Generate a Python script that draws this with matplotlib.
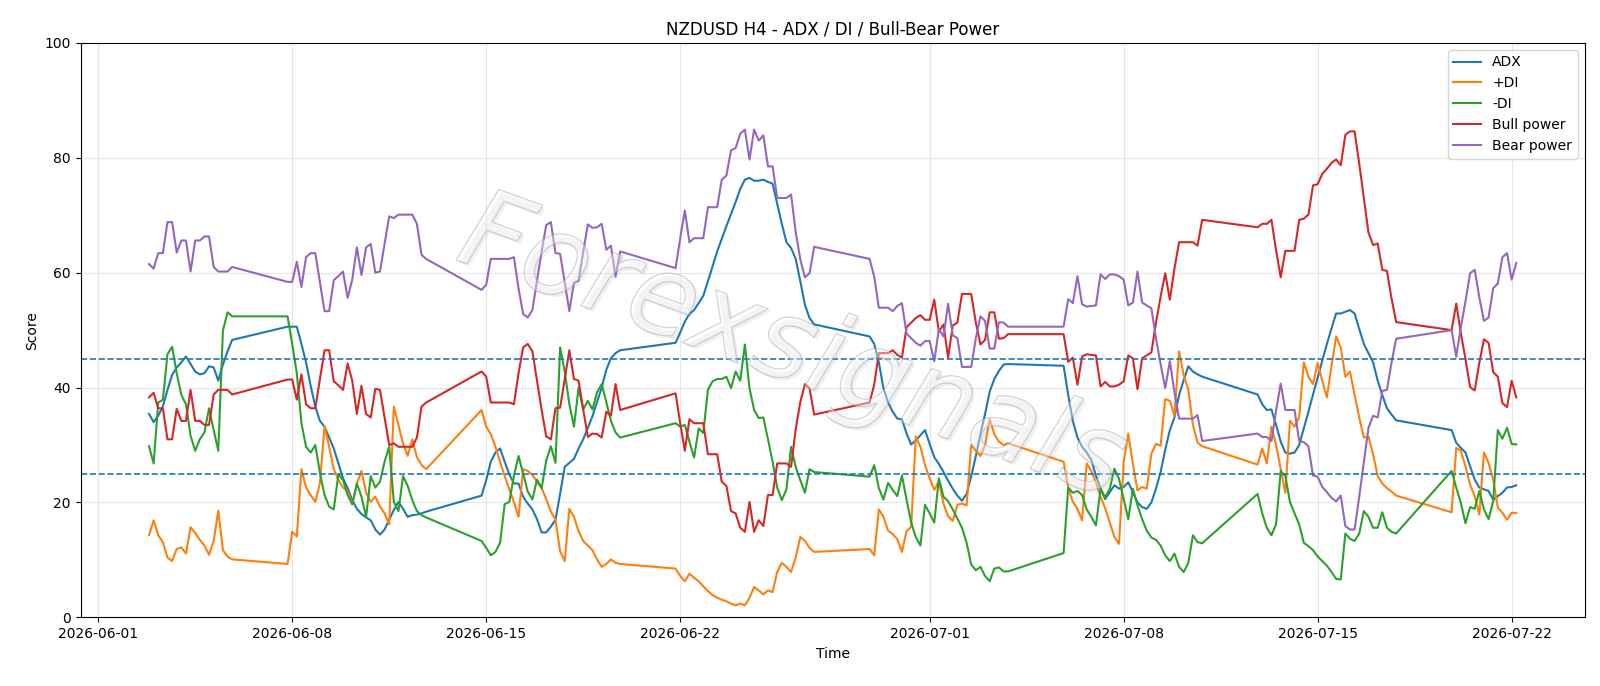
import matplotlib
matplotlib.use("Agg")
import matplotlib.pyplot as plt
import matplotlib.patheffects as pe
import pandas as pd

# H4 bars, Tue 2026-06-02 20:00 -> Wed 2026-07-22 04:00 (no Saturday, Sunday only 20:00)
bars = pd.date_range("2026-06-02 20:00", "2026-07-22 04:00", freq="4h")
bars = bars[(bars.dayofweek < 5) | ((bars.dayofweek == 6) & (bars.hour == 20))]

# one line per trading week
adx = [
    35.4, 34.0, 35.1, 36.7, 39.6, 42.2, 43.5, 44.4, 45.4, 44.1, 42.8, 42.3, 42.5, 43.7, 43.5, 41.2, 44.0, 46.3, 48.3,
    50.6, 50.6, 50.6, 47.6, 44.4, 40.3, 36.7, 34.2, 33.2, 31.3, 29.4, 26.8, 24.2, 22.5, 20.4, 18.9, 18.0, 17.4, 16.9, 15.3, 14.4, 15.3, 17.0, 18.7, 20.1, 18.9, 17.5, 17.8, 17.9, 18.1, 18.4,
    21.2, 23.9, 27.1, 28.7, 29.4, 27.1, 24.9, 23.3, 23.3, 21.0, 19.8, 18.8, 17.1, 14.8, 14.8, 15.8, 17.0, 21.5, 26.2, 26.9, 27.6, 29.4, 31.0, 33.0, 35.0, 37.5, 40.0, 43.1, 45.1, 46.0, 46.5,
    47.8, 49.6, 51.5, 52.8, 53.5, 54.7, 56.0, 58.5, 61.1, 63.7, 65.9, 68.1, 70.2, 72.3, 74.6, 76.2, 76.5, 76.0, 76.0, 76.2, 75.8, 75.5, 72.0, 68.5, 65.3, 64.3, 62.4, 58.5, 54.4, 52.1, 51.0,
    48.9, 47.6, 44.4, 39.9, 37.4, 35.8, 34.6, 34.5, 32.0, 30.1, 30.8, 31.7, 32.6, 30.2, 27.9, 26.7, 25.3, 23.8, 22.4, 21.2, 20.3, 21.5, 24.6, 28.1, 31.9, 35.4, 39.3, 41.5, 42.9, 44.0, 44.1,
    43.8, 38.7, 34.2, 31.3, 29.7, 28.7, 27.4, 24.7, 22.4, 20.6, 21.8, 23.0, 22.4, 22.7, 23.5, 21.8, 20.0, 19.2, 18.9, 20.0, 22.4, 25.3, 29.2, 32.6, 34.8, 38.7, 41.3, 43.7, 42.8, 42.3, 41.9,
    38.8, 37.1, 36.1, 36.2, 33.5, 30.6, 28.7, 28.5, 28.7, 30.0, 32.9, 35.8, 38.8, 41.7, 44.7, 47.6, 50.3, 52.9, 52.9, 53.2, 53.5, 52.9, 50.2, 47.6, 46.0, 44.4, 41.2, 38.7, 36.4, 35.3, 34.3,
    32.6, 30.4, 29.5, 28.7, 26.3, 24.0, 22.6, 22.3, 22.0, 20.5, 21.1, 21.7, 22.6, 22.7, 23.0,
]

plus_di = [
    14.3, 16.9, 14.3, 13.1, 10.4, 9.8, 11.9, 12.2, 11.1, 15.7, 14.7, 13.5, 12.5, 10.9, 13.3, 18.6, 11.7, 10.6, 10.1,
    9.3, 14.9, 14.1, 25.8, 22.6, 21.3, 20.1, 23.3, 33.3, 29.7, 25.8, 23.9, 22.6, 22.0, 19.7, 23.3, 25.5, 21.7, 20.1, 21.0, 19.3, 18.1, 16.2, 36.7, 33.5, 30.3, 28.1, 31.0, 27.9, 26.5, 25.8,
    36.1, 33.2, 31.9, 29.7, 27.1, 24.6, 22.3, 20.1, 17.5, 25.8, 25.5, 24.8, 23.6, 22.5, 20.6, 18.4, 17.0, 11.5, 9.8, 18.9, 17.5, 15.0, 13.3, 12.5, 11.7, 10.1, 8.8, 9.3, 10.1, 9.5, 9.3,
    8.5, 7.2, 6.3, 7.6, 6.9, 6.3, 5.4, 4.6, 3.9, 3.4, 3.1, 2.8, 2.4, 2.1, 2.4, 2.1, 3.4, 5.3, 4.7, 4.0, 4.7, 4.4, 7.9, 9.5, 8.8, 7.9, 10.4, 14.0, 13.3, 12.1, 11.4,
    11.9, 10.8, 18.8, 17.5, 15.1, 14.5, 13.6, 11.4, 15.0, 15.8, 31.5, 29.7, 26.5, 24.2, 22.2, 23.7, 19.8, 17.6, 16.8, 19.6, 19.8, 19.5, 30.0, 29.0, 28.1, 30.0, 34.5, 31.9, 30.6, 30.0, 30.3,
    27.1, 22.6, 20.1, 18.9, 16.9, 26.8, 25.5, 23.5, 21.0, 19.0, 16.5, 14.0, 12.8, 27.0, 32.0, 26.7, 22.1, 22.7, 22.4, 28.5, 30.2, 29.9, 38.0, 37.7, 35.1, 46.3, 42.2, 39.6, 33.5, 30.4, 29.8,
    26.6, 29.4, 26.8, 33.2, 30.0, 25.8, 21.7, 34.2, 33.2, 34.8, 44.4, 41.9, 40.6, 44.3, 41.2, 38.3, 43.8, 48.9, 47.0, 41.9, 42.8, 38.7, 34.8, 31.3, 31.5, 28.4, 24.6, 23.3, 22.5, 21.9, 21.2,
    18.3, 29.5, 29.0, 26.3, 23.1, 21.1, 17.9, 28.7, 26.9, 24.0, 19.1, 18.2, 17.0, 18.2, 18.2,
]

minus_di = [
    29.8, 26.8, 37.4, 37.9, 45.8, 47.1, 42.5, 38.7, 37.1, 31.6, 29.0, 31.0, 32.2, 36.4, 32.6, 29.0, 49.9, 53.1, 52.4,
    52.4, 47.6, 42.5, 33.8, 29.7, 28.7, 30.0, 25.2, 21.3, 19.3, 18.8, 24.9, 23.9, 21.3, 19.7, 23.3, 21.0, 17.5, 24.6, 22.6, 23.6, 27.1, 29.7, 20.1, 18.5, 24.6, 22.9, 20.4, 18.5, 17.8, 17.4,
    13.3, 12.1, 10.8, 11.4, 13.0, 19.7, 20.1, 24.6, 28.1, 25.0, 21.9, 20.5, 24.0, 22.5, 27.3, 29.8, 26.9, 47.0, 42.8, 37.1, 33.2, 40.0, 36.2, 37.7, 36.2, 39.2, 40.6, 37.5, 34.2, 32.2, 31.3,
    33.8, 33.2, 33.5, 30.6, 27.8, 32.9, 32.1, 39.6, 41.1, 41.5, 41.5, 41.9, 39.9, 42.8, 41.2, 47.5, 39.9, 36.1, 34.7, 34.8, 31.0, 27.1, 22.6, 20.4, 22.3, 29.7, 26.2, 23.9, 21.7, 25.8, 25.3,
    24.5, 26.5, 22.5, 20.5, 23.4, 22.2, 21.1, 24.7, 20.5, 16.5, 14.0, 12.5, 19.6, 18.1, 16.5, 24.2, 21.0, 20.2, 18.8, 17.2, 15.6, 13.0, 9.2, 8.2, 8.8, 7.2, 6.3, 8.5, 8.7, 8.0, 8.0,
    11.2, 22.6, 21.7, 22.0, 21.3, 18.8, 17.5, 16.0, 22.4, 20.9, 22.4, 25.9, 24.1, 20.6, 17.1, 22.4, 19.5, 17.1, 15.1, 13.9, 13.5, 12.5, 10.8, 9.8, 11.1, 8.8, 7.9, 9.5, 14.3, 13.1, 12.9,
    21.5, 18.1, 15.6, 14.3, 16.2, 25.5, 24.6, 20.1, 18.1, 16.2, 13.0, 12.4, 11.7, 10.6, 9.8, 9.0, 7.9, 6.7, 6.6, 14.6, 13.7, 13.3, 14.6, 18.5, 17.5, 15.6, 15.6, 18.3, 15.6, 14.9, 14.6,
    25.5, 22.6, 19.9, 16.4, 19.2, 18.9, 22.0, 18.8, 17.1, 20.2, 32.6, 31.1, 33.0, 30.2, 30.1,
]

bull_power = [
    38.3, 39.1, 36.4, 36.4, 31.0, 31.0, 36.3, 34.2, 34.2, 39.6, 34.2, 34.2, 33.5, 33.5, 38.8, 39.6, 39.6, 39.6, 38.8,
    41.4, 41.4, 37.9, 42.3, 37.1, 36.4, 36.4, 41.5, 46.5, 46.5, 41.1, 40.4, 39.6, 44.2, 41.2, 35.4, 40.3, 35.4, 34.8, 39.8, 39.6, 34.8, 30.0, 30.3, 29.7, 29.7, 29.7, 29.7, 31.3, 36.7, 37.4,
    42.8, 41.9, 37.4, 37.4, 37.4, 37.4, 37.4, 37.1, 42.5, 47.0, 47.6, 46.3, 41.2, 36.1, 31.5, 31.0, 36.4, 36.5, 41.5, 46.5, 41.5, 41.2, 36.2, 31.4, 32.0, 31.9, 31.3, 35.8, 35.1, 40.6, 36.1,
    39.0, 33.8, 29.0, 34.5, 33.8, 33.8, 33.8, 28.4, 28.4, 28.4, 23.6, 22.9, 18.5, 18.1, 15.6, 14.9, 20.1, 14.9, 16.9, 15.9, 21.3, 21.3, 26.8, 26.8, 26.8, 26.2, 32.7, 37.5, 40.6, 39.9, 35.3,
    37.4, 40.5, 46.0, 46.0, 46.0, 46.5, 45.7, 45.2, 50.5, 51.3, 52.1, 52.6, 51.8, 51.8, 55.3, 49.7, 51.0, 45.2, 50.8, 51.3, 56.3, 56.3, 56.3, 51.3, 47.5, 48.3, 53.1, 53.1, 48.5, 48.6, 49.3,
    49.3, 44.5, 45.2, 40.5, 45.4, 45.8, 45.7, 45.6, 40.2, 41.0, 40.2, 40.2, 40.5, 41.1, 45.6, 45.1, 39.7, 45.1, 45.6, 46.1, 51.3, 55.8, 59.9, 55.3, 60.7, 65.3, 65.3, 65.3, 65.3, 64.7, 69.2,
    67.9, 68.5, 68.5, 69.2, 63.9, 59.2, 63.8, 63.8, 63.8, 69.2, 69.4, 70.1, 75.2, 75.4, 77.2, 78.1, 79.1, 79.7, 78.7, 84.0, 84.6, 84.6, 79.0, 73.0, 67.0, 64.8, 65.1, 60.5, 60.3, 55.5, 51.4,
    50.0, 54.6, 49.5, 45.0, 40.1, 39.5, 44.3, 48.4, 47.8, 42.7, 41.9, 37.3, 36.6, 41.2, 38.3,
]

bear_power = [
    61.5, 60.7, 63.4, 63.4, 68.8, 68.8, 63.5, 65.6, 65.6, 60.2, 65.6, 65.6, 66.3, 66.3, 61.0, 60.2, 60.2, 60.2, 61.0,
    58.4, 58.4, 61.9, 57.5, 62.7, 63.4, 63.4, 58.3, 53.3, 53.3, 58.7, 59.4, 60.2, 55.6, 58.8, 64.4, 59.6, 64.4, 65.0, 60.0, 60.2, 65.0, 69.8, 69.5, 70.1, 70.1, 70.1, 70.1, 68.5, 63.1, 62.4,
    57.0, 57.9, 62.4, 62.4, 62.4, 62.4, 62.4, 62.7, 57.3, 52.8, 52.2, 53.5, 58.6, 63.7, 68.3, 68.8, 63.4, 63.3, 58.3, 53.3, 58.3, 58.6, 63.6, 68.4, 67.8, 67.9, 68.5, 64.0, 64.7, 59.3, 63.7,
    60.8, 66.0, 70.8, 65.3, 66.0, 66.0, 66.0, 71.4, 71.4, 71.4, 76.2, 76.9, 81.3, 81.7, 84.2, 84.9, 79.7, 84.9, 83.0, 83.9, 78.5, 78.5, 73.0, 73.0, 73.0, 73.6, 67.1, 62.3, 59.2, 59.9, 64.5,
    62.4, 59.3, 53.9, 53.9, 53.9, 53.3, 54.2, 54.7, 49.4, 48.6, 47.8, 47.3, 48.1, 48.1, 44.6, 50.2, 48.9, 54.6, 49.1, 48.6, 43.6, 43.6, 43.6, 48.6, 52.4, 51.6, 46.8, 46.8, 51.4, 51.3, 50.6,
    50.6, 55.4, 54.7, 59.4, 54.5, 54.1, 54.2, 54.3, 59.7, 58.9, 59.7, 59.7, 59.4, 58.8, 54.3, 54.8, 60.2, 54.8, 54.3, 53.8, 48.6, 44.1, 39.9, 44.6, 39.2, 34.6, 34.6, 34.6, 34.6, 35.2, 30.7,
    32.0, 31.4, 31.4, 30.7, 36.0, 40.7, 36.1, 36.1, 36.1, 30.7, 30.5, 29.8, 24.7, 24.5, 22.7, 21.8, 20.8, 20.2, 21.2, 15.9, 15.3, 15.3, 21.0, 27.0, 33.0, 35.1, 34.8, 39.4, 39.6, 44.4, 48.5,
    50.0, 45.4, 50.5, 55.0, 59.9, 60.5, 55.7, 51.6, 52.2, 57.3, 58.1, 62.7, 63.4, 58.8, 61.7,
]

SERIES = {
    "ADX": adx,
    "+DI": plus_di,
    "-DI": minus_di,
    "Bull power": bull_power,
    "Bear power": bear_power,
}

LEVELS = [25, 45]


def main():
    fig, ax = plt.subplots(figsize=(16, 6.86), dpi=100)
    fig.subplots_adjust(left=0.0504, right=0.9904, top=0.9375, bottom=0.100)

    for name, values in SERIES.items():
        ax.plot(bars, values, linewidth=1.5, label=name)

    for level in LEVELS:
        ax.axhline(level, linestyle="--", linewidth=1.2, color="C0")

    ax.set_ylim(0, 100)
    ax.set_title("NZDUSD H4 - ADX / DI / Bull-Bear Power")
    ax.set_xlabel("Time")
    ax.set_ylabel("Score")
    ax.grid(True, alpha=0.3)
    ax.legend(loc="upper right")

    # watermark
    fig.text(
        0.495, 0.49, "Forexsignals",
        fontsize=80, fontstyle="italic", rotation=-20,
        ha="center", va="center",
        color=(1, 1, 1, 0.2),
        path_effects=[
            pe.SimplePatchShadow(offset=(2, -2), shadow_rgbFace=(0.6, 0.6, 0.6), alpha=0.15),
            pe.Stroke(linewidth=1.0, foreground=(0.62, 0.62, 0.62, 0.45)),
            pe.Normal(),
        ],
    )

    fig.savefig("out.png", dpi=100)


if __name__ == "__main__":
    main()
